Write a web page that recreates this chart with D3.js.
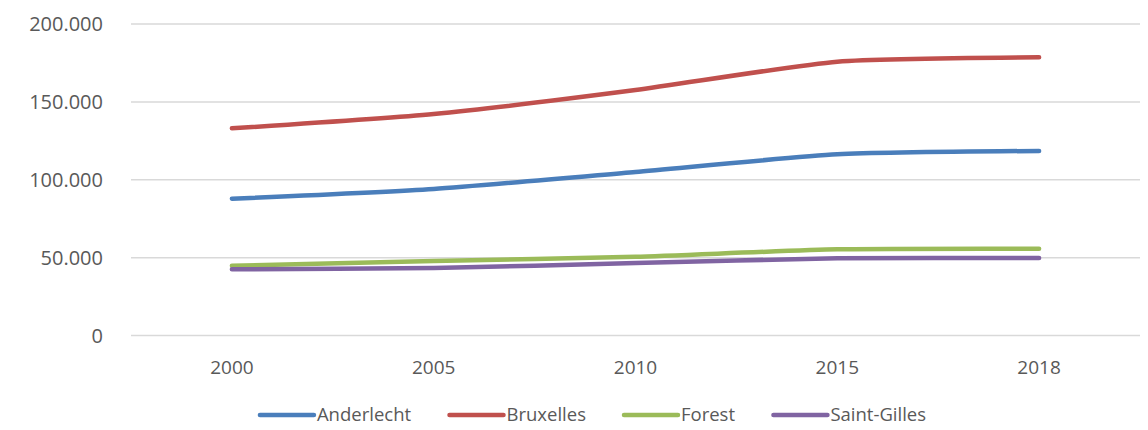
<!DOCTYPE html>
<html>
<head>
<meta charset="utf-8">
<script src="https://cdn.jsdelivr.net/npm/d3@7"></script>
<style>
  html, body { margin: 0; padding: 0; background: #fff; }
  svg { display: block; font-family: "Open Sans", sans-serif; }
</style>
</head>
<body>
<div id="chart"></div>
<script>
const years = ["2000", "2005", "2010", "2015", "2018"];
const anderlecht = [87800, 94100, 105000, 116300, 118500];
const bruxelles = [133000, 142200, 157600, 175800, 178600];
const forest = [44800, 47800, 50600, 55300, 55700];
const saintGilles = [42500, 43300, 46500, 49600, 49800];
const yTicks = [0, 50000, 100000, 150000, 200000];

const series = [
  { name: "Anderlecht", values: anderlecht, color: "#4a7ebb" },
  { name: "Bruxelles", values: bruxelles, color: "#c0504d" },
  { name: "Forest", values: forest, color: "#9bbb59" },
  { name: "Saint-Gilles", values: saintGilles, color: "#8064a2" }
];

const width = 1148, height = 430;
const margin = { top: 24, right: 8, bottom: 94.5, left: 131 };

const svg = d3.select("#chart").append("svg")
  .attr("width", width)
  .attr("height", height);

const x = d3.scalePoint()
  .domain(years)
  .range([margin.left, width - margin.right])
  .padding(0.5);

const y = d3.scaleLinear()
  .domain([0, 200000])
  .range([height - margin.bottom, margin.top]);

const fmt = d => d3.format(",")(d).replace(/,/g, ".");

// gridlines
svg.append("g")
  .selectAll("line")
  .data(yTicks)
  .enter().append("line")
  .attr("x1", margin.left)
  .attr("x2", width - margin.right)
  .attr("y1", d => y(d))
  .attr("y2", d => y(d))
  .attr("stroke", "#d9d9d9")
  .attr("stroke-width", 1.5);

// y labels
svg.append("g")
  .selectAll("text")
  .data(yTicks)
  .enter().append("text")
  .attr("x", 103)
  .attr("y", d => y(d))
  .attr("dy", "0.35em")
  .attr("text-anchor", "end")
  .attr("fill", "#595959")
  .style("font-size", "20px")
  .text(fmt);

// x labels
svg.append("g")
  .selectAll("text")
  .data(years)
  .enter().append("text")
  .attr("x", d => x(d))
  .attr("y", 367)
  .attr("dy", "0.35em")
  .attr("text-anchor", "middle")
  .attr("fill", "#595959")
  .style("font-size", "19px")
  .text(d => d);

const line = d3.line()
  .x((d, i) => x(years[i]))
  .y(d => y(d))
  .curve(d3.curveCardinal.tension(0.4));

svg.append("g")
  .selectAll("path")
  .data(series)
  .enter().append("path")
  .attr("d", d => line(d.values))
  .attr("fill", "none")
  .attr("stroke", d => d.color)
  .attr("stroke-width", 4.5)
  .attr("stroke-linecap", "round")
  .attr("stroke-linejoin", "round");

// legend
const legend = svg.append("g");
const items = legend.selectAll(".legend-item")
  .data(series)
  .enter().append("g")
  .attr("class", "legend-item");

items.append("line")
  .attr("x1", 0)
  .attr("x2", 54)
  .attr("y1", 0)
  .attr("y2", 0)
  .attr("stroke", d => d.color)
  .attr("stroke-width", 4.5)
  .attr("stroke-linecap", "round");

items.append("text")
  .attr("x", 57)
  .attr("y", 0)
  .attr("dy", "0.35em")
  .attr("fill", "#595959")
  .style("font-size", "18.5px")
  .text(d => d.name);

let offset = 0;
items.each(function() {
  const w = this.getBBox().width;
  d3.select(this).attr("transform", `translate(${offset},415)`);
  offset += w + 38;
});
const total = offset - 38;
legend.attr("transform", `translate(${593 - total / 2},0)`);
</script>
</body>
</html>
